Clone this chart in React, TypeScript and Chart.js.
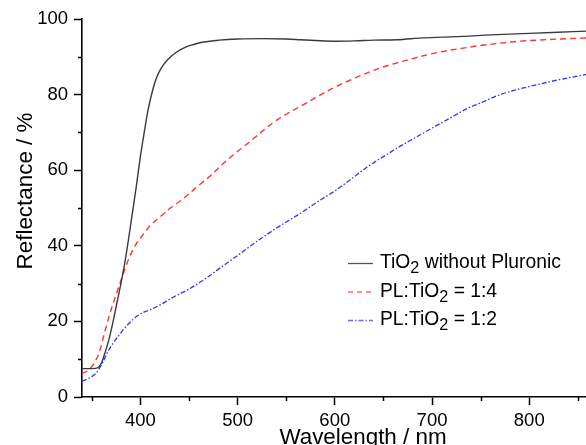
import React, { useEffect, useRef } from "react";
import { Chart, registerables } from "chart.js";

Chart.register(...registerables);

const FONT = "'Liberation Sans', Arial, Helvetica, sans-serif";

// ---- data ----
const seriesLabels = ["TiO₂ without Pluronic", "PL:TiO₂ = 1:4", "PL:TiO₂ = 1:2"];

const pureWavelengths = [340, 350, 356, 360, 364, 368, 372, 376, 380, 384, 388, 392, 396, 400, 404, 408, 412, 416, 421, 428, 437, 446, 454, 465, 481, 500, 526, 550, 565, 580, 600, 620, 640, 664, 690, 710, 732, 760, 780, 800, 830, 860];
const pureReflectance = [7.5, 7.5, 7.7, 9, 12, 15.5, 20, 25, 30, 35.5, 42, 49, 56, 63.5, 70, 76, 80.5, 84, 86.8, 89.2, 91.2, 92.5, 93.2, 93.9, 94.4, 94.7, 94.8, 94.7, 94.5, 94.3, 94.1, 94.2, 94.4, 94.5, 95, 95.2, 95.4, 95.8, 96, 96.2, 96.5, 96.8];

const pl14Wavelengths = [340, 345, 350, 354, 358, 363, 368, 373, 378, 383, 388, 392, 396, 400, 405, 410, 421, 433, 442, 452, 463, 472, 484, 493, 502, 511, 524, 536, 550, 571, 595, 612, 629, 646, 664, 681, 698, 715, 732, 750, 767, 784, 801, 830, 860];
const pl14Reflectance = [6.2, 6.8, 8, 9.6, 12, 16.8, 21.5, 25.5, 29.3, 33, 36.5, 38.8, 40.6, 42, 43.7, 45.3, 47.8, 50.4, 52, 54.2, 56.6, 58.5, 61.5, 63.5, 65.4, 67.2, 70, 72.5, 74.8, 77.8, 81.3, 83.4, 85.3, 87, 88.4, 89.6, 90.7, 91.6, 92.3, 93, 93.5, 94, 94.3, 94.7, 95];

const pl12Wavelengths = [340, 345, 350, 354, 357, 360, 363, 366, 370, 374, 378, 384, 392, 399, 409, 420, 433, 443, 449, 468, 484, 502, 520, 536, 550, 564, 582, 600, 616, 633, 650, 667, 684, 701, 718, 736, 750, 767, 784, 801, 830, 860];
const pl12Reflectance = [4.2, 4.7, 5.4, 6.2, 7.2, 8.5, 10, 11.7, 13.5, 15, 16.3, 18.3, 20.4, 21.8, 23, 24.3, 26.3, 27.6, 28.4, 31.5, 34.5, 37.8, 41.2, 44, 46.3, 48.5, 51.6, 54.5, 57.5, 60.8, 63.6, 66.3, 68.8, 71.3, 73.7, 76.3, 77.8, 79.7, 81.1, 82.2, 83.9, 85.4];

const xMinorTicks = [350, 450, 550, 650, 750, 850];
const yMinorTicks = [10, 30, 50, 70, 90];

const xTitle = "Wavelength / nm";
const yTitle = "Reflectance / %";

// ---- styles ----
const seriesStyles = [
  { color: "#3a3a3a", legendColor: "#555555", width: 1.4, dash: [] as number[] },
  { color: "#ff3535", legendColor: "#ff6a6a", width: 1.4, dash: [6, 4] },
  { color: "#3232ff", legendColor: "#6a6aff", width: 1.3, dash: [5, 2, 1.5, 2] },
];

function toPoints(xs: number[], ys: number[]) {
  return xs.map((x, i) => ({ x, y: ys[i] }));
}

function drawRich(ctx: CanvasRenderingContext2D, text: string, x: number, y: number, size: number) {
  const parts = text.split("₂");
  let cx = x;
  parts.forEach((p, i) => {
    ctx.font = `${size}px ${FONT}`;
    ctx.fillText(p, cx, y);
    cx += ctx.measureText(p).width;
    if (i < parts.length - 1) {
      const sub = size * 0.84;
      ctx.font = `${sub}px ${FONT}`;
      ctx.fillText("2", cx, y + 5);
      cx += ctx.measureText("2").width;
    }
  });
}

const decorPlugin = {
  id: "decor",
  afterDraw(chart: any) {
    const ctx: CanvasRenderingContext2D = chart.ctx;
    const xs = chart.scales.x;
    const ys = chart.scales.y;
    const area = chart.chartArea;
    ctx.save();
    // minor ticks
    ctx.strokeStyle = "#000";
    ctx.lineWidth = 1.5;
    ctx.beginPath();
    xMinorTicks.forEach((v) => {
      const px = Math.round(xs.getPixelForValue(v)) + 0.5;
      ctx.moveTo(px, area.bottom);
      ctx.lineTo(px, area.bottom + 4);
    });
    yMinorTicks.forEach((v) => {
      const py = Math.round(ys.getPixelForValue(v)) + 0.5;
      ctx.moveTo(area.left - 4, py);
      ctx.lineTo(area.left, py);
    });
    ctx.stroke();

    // y title
    ctx.fillStyle = "#000";
    ctx.font = `22.4px ${FONT}`;
    ctx.textAlign = "center";
    ctx.textBaseline = "alphabetic";
    ctx.save();
    ctx.translate(32, 191);
    ctx.rotate(-Math.PI / 2);
    ctx.fillText(yTitle, 0, 0);
    ctx.restore();

    // legend
    const baseY = 268;
    const rowH = 28.5;
    ctx.textAlign = "left";
    seriesLabels.forEach((label, i) => {
      const st = seriesStyles[i];
      const y = baseY + i * rowH;
      ctx.strokeStyle = st.legendColor;
      ctx.lineWidth = 1.3;
      ctx.setLineDash(st.dash.length ? (i === 1 ? [5, 4] : [5, 2, 1.5, 2]) : []);
      ctx.beginPath();
      ctx.moveTo(348, y - 4.5);
      ctx.lineTo(373, y - 4.5);
      ctx.stroke();
      ctx.setLineDash([]);
      ctx.fillStyle = "#000";
      drawRich(ctx, label, 380, y, 19.3);
    });
    ctx.restore();
  },
};

export default function App() {
  const ref = useRef<HTMLCanvasElement>(null);

  useEffect(() => {
    const canvas = ref.current;
    if (!canvas) return;
    const series = [
      toPoints(pureWavelengths, pureReflectance),
      toPoints(pl14Wavelengths, pl14Reflectance),
      toPoints(pl12Wavelengths, pl12Reflectance),
    ];
    const axisCommon = {
      grid: {
        display: true,
        drawOnChartArea: false,
        drawTicks: true,
        tickLength: 8,
        tickColor: "#000",
        tickWidth: 1.5,
        color: "#000",
      },
      border: { display: true, color: "#000", width: 1.6 },
    };
    const chart = new Chart(canvas, {
      type: "line",
      data: {
        datasets: series.map((pts, i) => ({
          label: seriesLabels[i],
          data: pts,
          borderColor: seriesStyles[i].color,
          borderWidth: seriesStyles[i].width,
          borderDash: seriesStyles[i].dash,
          pointRadius: 0,
          fill: false,
          cubicInterpolationMode: "monotone" as const,
        })),
      },
      options: {
        responsive: false,
        maintainAspectRatio: false,
        devicePixelRatio: 1,
        animation: false,
        layout: { padding: { top: 19, right: 0, bottom: 0, left: 0 } },
        plugins: {
          legend: { display: false },
          tooltip: { enabled: false },
        },
        scales: {
          x: {
            type: "linear",
            min: 340,
            max: 918,
            ...axisCommon,
            ticks: {
              stepSize: 100,
              includeBounds: false,
              autoSkip: false,
              maxRotation: 0,
              padding: 5,
              color: "#000",
              font: { size: 18.5, family: FONT },
            },
            title: {
              display: true,
              text: xTitle,
              color: "#000",
              font: { size: 22.4, family: FONT },
              padding: { top: 0, bottom: 1 },
            },
            afterFit(scale: any) {
              scale.height = 55;
              scale.paddingLeft = 0;
              scale.paddingRight = 0;
            },
          },
          y: {
            type: "linear",
            min: 0,
            max: 100,
            ...axisCommon,
            ticks: {
              stepSize: 20,
              padding: 6,
              color: "#000",
              font: { size: 18.5, family: FONT },
            },
            title: { display: false },
            afterFit(scale: any) {
              scale.width = 82;
              scale.paddingTop = 0;
              scale.paddingBottom = 0;
            },
          },
        },
      },
      plugins: [decorPlugin],
    } as any);
    return () => chart.destroy();
  }, []);

  return (
    <div
      style={{
        position: "absolute",
        left: 0,
        top: 0,
        width: 586,
        height: 445,
        overflow: "hidden",
        background: "#fff",
      }}
    >
      <canvas ref={ref} width={644} height={452} style={{ display: "block" }} />
    </div>
  );
}
